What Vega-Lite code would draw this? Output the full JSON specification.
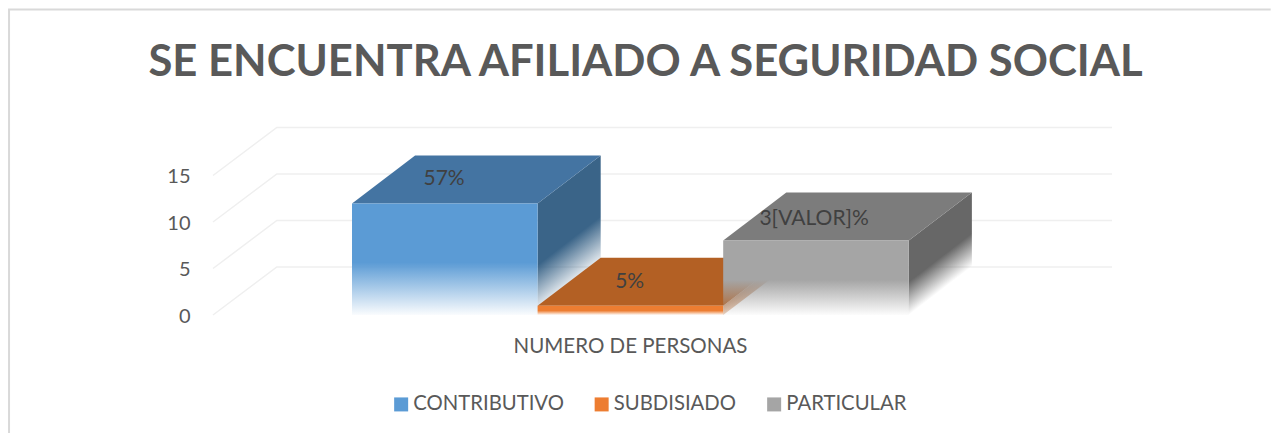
{"$schema":"https://vega.github.io/schema/vega-lite/v6.json","width":899,"height":187.5,"autosize":{"type":"none"},"padding":{"left":213,"top":127.5,"right":159,"bottom":118},"background":"white","config":{"view":{"stroke":null},"font":"Lato"},
"title":{"text":"SE ENCUENTRA AFILIADO A SEGURIDAD SOCIAL","anchor":"middle","dx":-17,"offset":-80,"fontSize":43.6,"fontWeight":"bold","font":"Lato","color":"#595959"},
"datasets":{
"series":[{"serie":"CONTRIBUTIVO","valor":12,"inicio":0,"fin":1},{"serie":"SUBDISIADO","valor":1,"inicio":1,"fin":2},{"serie":"PARTICULAR","valor":8,"inicio":2,"fin":3}],
"caras":[
{"cara":"azul-lado","x":1,"y":12,"y2":0},{"cara":"azul-lado","x":1.34,"y":17.16,"y2":5.16},
{"cara":"azul-sup","x":0,"y":12,"y2":12},{"cara":"azul-sup","x":0.34,"y":17.16,"y2":12},{"cara":"azul-sup","x":1,"y":17.16,"y2":12},{"cara":"azul-sup","x":1.34,"y":17.16,"y2":17.16},
{"cara":"nar-lado","x":2,"y":1,"y2":0},{"cara":"nar-lado","x":2.34,"y":6.16,"y2":5.16},
{"cara":"nar-sup","x":1,"y":1,"y2":1},{"cara":"nar-sup","x":1.34,"y":6.16,"y2":1},{"cara":"nar-sup","x":2,"y":6.16,"y2":1},{"cara":"nar-sup","x":2.34,"y":6.16,"y2":6.16},
{"cara":"gris-lado","x":3,"y":8,"y2":0},{"cara":"gris-lado","x":3.34,"y":13.16,"y2":5.16},
{"cara":"gris-sup","x":2,"y":8,"y2":8},{"cara":"gris-sup","x":2.34,"y":13.16,"y2":8},{"cara":"gris-sup","x":3,"y":13.16,"y2":8},{"cara":"gris-sup","x":3.34,"y":13.16,"y2":13.16}],
"rejilla":[
{"g":0,"o":0,"x":-0.749,"y":0},{"g":0,"o":1,"x":-0.405,"y":5.16},{"g":0,"o":2,"x":4.095,"y":5.16},
{"g":5,"o":0,"x":-0.749,"y":5},{"g":5,"o":1,"x":-0.405,"y":10.16},{"g":5,"o":2,"x":4.095,"y":10.16},
{"g":10,"o":0,"x":-0.749,"y":10},{"g":10,"o":1,"x":-0.405,"y":15.16},{"g":10,"o":2,"x":4.095,"y":15.16},
{"g":15,"o":0,"x":-0.749,"y":15},{"g":15,"o":1,"x":-0.405,"y":20.16},{"g":15,"o":2,"x":4.095,"y":20.16}],
"borde":[{"o":0,"x":-1.848,"y":-12.7},{"o":1,"x":-1.848,"y":32.85},{"o":2,"x":4.95,"y":32.85}],
"etiquetas":[{"t":"57%","x":0.496,"y":14.6},{"t":"5%","x":1.496,"y":3.6},{"t":"3[VALOR]%","x":2.49,"y":10.3}]},
"layer":[
{"data":{"name":"borde"},"mark":{"type":"line","color":"#D9D9D9","strokeWidth":2,"clip":false},"encoding":{"x":{"field":"x","type":"quantitative","scale":{"domain":[-0.749,4.095],"nice":false,"zero":false},"axis":{"title":"NUMERO DE PERSONAS","titleFont":"Lato","titleFontSize":20.5,"titleFontWeight":"normal","titleColor":"#595959","titleX":417,"titleY":21,"labels":false,"ticks":false,"domain":false,"grid":false}},"y":{"field":"y","type":"quantitative","scale":{"domain":[0,20.16],"nice":false,"zero":false},"axis":{"values":[0,5,10,15],"title":null,"labelFont":"Lato","labelFontSize":20,"labelColor":"#595959","labelPadding":23,"labelOffset":1.5,"ticks":false,"domain":false,"grid":false}},"order":{"field":"o"}}},
{"data":{"name":"rejilla"},"mark":{"type":"line","color":"#EFEFEF","strokeWidth":1.5},"encoding":{"x":{"field":"x","type":"quantitative"},"y":{"field":"y","type":"quantitative"},"detail":{"field":"g"},"order":{"field":"o"}}},
{"data":{"name":"series"},"mark":{"type":"rect","opacity":0},"encoding":{"x":{"field":"inicio","type":"quantitative"},"x2":{"field":"fin"},"y":{"field":"valor","type":"quantitative"},"y2":{"datum":0},"color":{"field":"serie","type":"nominal","scale":{"domain":["CONTRIBUTIVO","SUBDISIADO","PARTICULAR"],"range":["#5B9BD5","#ED7D31","#A5A5A5"]},"legend":{"title":null,"orient":"none","legendX":178,"legendY":266.5,"direction":"horizontal","columns":3,"symbolType":"square","symbolSize":196,"symbolStrokeWidth":0,"symbolOpacity":1,"labelFont":"Lato","labelFontSize":20.3,"labelColor":"#595959","columnPadding":27.5,"labelOffset":2}}}},
{"data":{"name":"caras"},"transform":[{"filter":"datum.cara==='azul-lado'"}],"mark":{"type":"area","line":false,"color":{"gradient":"linear","x1":0.2,"y1":0.243,"x2":0.394,"y2":0.88,"stops":[{"offset":0,"color":"#3A6488"},{"offset":0.55,"color":"#3A6488"},{"offset":1,"color":"rgba(58,100,136,0)"}]}},"encoding":{"x":{"field":"x","type":"quantitative"},"y":{"field":"y","type":"quantitative"},"y2":{"field":"y2"}}},
{"data":{"name":"caras"},"transform":[{"filter":"datum.cara==='azul-sup'"}],"mark":{"type":"area","color":"#4474A2"},"encoding":{"x":{"field":"x","type":"quantitative"},"y":{"field":"y","type":"quantitative"},"y2":{"field":"y2"}}},
{"data":{"name":"caras"},"transform":[{"filter":"datum.cara==='nar-lado'"}],"mark":{"type":"area","color":{"gradient":"linear","x1":0,"y1":0,"x2":0.4,"y2":1,"stops":[{"offset":0,"color":"#B36024"},{"offset":0.5,"color":"#B36024"},{"offset":1,"color":"rgba(179,96,36,0)"}]}},"encoding":{"x":{"field":"x","type":"quantitative"},"y":{"field":"y","type":"quantitative"},"y2":{"field":"y2"}}},
{"data":{"name":"caras"},"transform":[{"filter":"datum.cara==='nar-sup'"}],"mark":{"type":"area","color":"#B36024"},"encoding":{"x":{"field":"x","type":"quantitative"},"y":{"field":"y","type":"quantitative"},"y2":{"field":"y2"}}},
{"data":{"name":"caras"},"transform":[{"filter":"datum.cara==='gris-lado'"}],"mark":{"type":"area","color":{"gradient":"linear","x1":0.2,"y1":0.318,"x2":0.407,"y2":0.839,"stops":[{"offset":0,"color":"#676767"},{"offset":0.55,"color":"#676767"},{"offset":1,"color":"rgba(103,103,103,0)"}]}},"encoding":{"x":{"field":"x","type":"quantitative"},"y":{"field":"y","type":"quantitative"},"y2":{"field":"y2"}}},
{"data":{"name":"caras"},"transform":[{"filter":"datum.cara==='gris-sup'"}],"mark":{"type":"area","color":"#7C7C7C"},"encoding":{"x":{"field":"x","type":"quantitative"},"y":{"field":"y","type":"quantitative"},"y2":{"field":"y2"}}},
{"data":{"name":"series"},"transform":[{"filter":"datum.serie==='CONTRIBUTIVO'"}],"mark":{"type":"rect","color":{"gradient":"linear","x1":0,"y1":0,"x2":0,"y2":1,"stops":[{"offset":0,"color":"#5B9BD5"},{"offset":0.53,"color":"#5B9BD5"},{"offset":1,"color":"rgba(91,155,213,0.03)"}]}},"encoding":{"x":{"field":"inicio","type":"quantitative"},"x2":{"field":"fin"},"y":{"field":"valor","type":"quantitative"},"y2":{"datum":0}}},
{"data":{"name":"series"},"transform":[{"filter":"datum.serie==='SUBDISIADO'"}],"mark":{"type":"rect","color":{"gradient":"linear","x1":0,"y1":0,"x2":0,"y2":1,"stops":[{"offset":0,"color":"#ED7D31"},{"offset":0.53,"color":"#ED7D31"},{"offset":1,"color":"rgba(237,125,49,0.03)"}]}},"encoding":{"x":{"field":"inicio","type":"quantitative"},"x2":{"field":"fin"},"y":{"field":"valor","type":"quantitative"},"y2":{"datum":0}}},
{"data":{"name":"series"},"transform":[{"filter":"datum.serie==='PARTICULAR'"}],"mark":{"type":"rect","color":{"gradient":"linear","x1":0,"y1":0,"x2":0,"y2":1,"stops":[{"offset":0,"color":"#A5A5A5"},{"offset":0.53,"color":"#A5A5A5"},{"offset":1,"color":"rgba(165,165,165,0.03)"}]}},"encoding":{"x":{"field":"inicio","type":"quantitative"},"x2":{"field":"fin"},"y":{"field":"valor","type":"quantitative"},"y2":{"datum":0}}},
{"data":{"name":"etiquetas"},"mark":{"type":"text","font":"Lato","fontSize":21,"color":"#404040","align":"center","baseline":"middle"},"encoding":{"x":{"field":"x","type":"quantitative"},"y":{"field":"y","type":"quantitative"},"text":{"field":"t"}}}
]}
